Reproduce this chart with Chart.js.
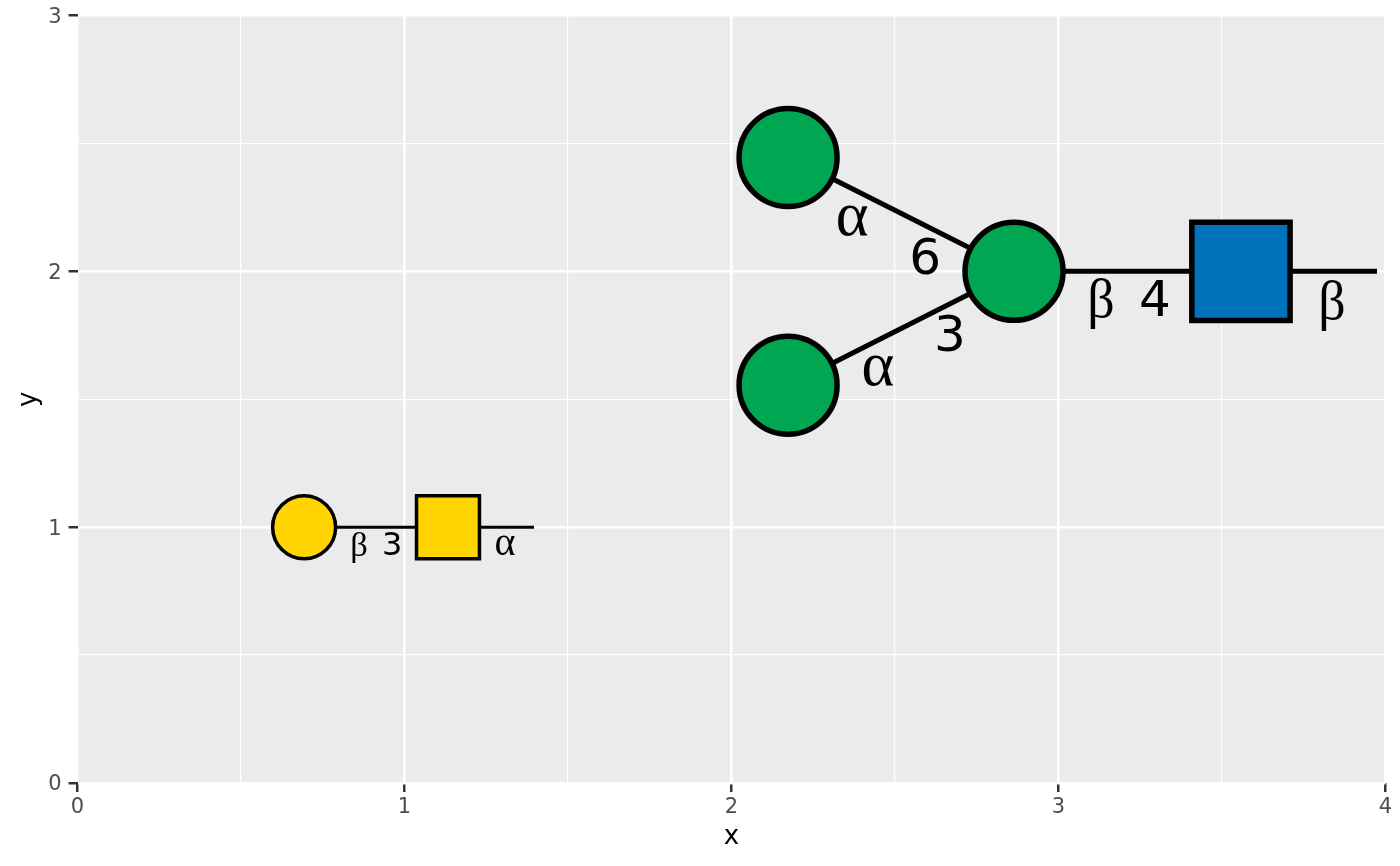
<!DOCTYPE html>
<html>
<head>
<meta charset="utf-8">
<title>glycan</title>
<script src="https://cdn.jsdelivr.net/npm/chart.js@4"></script>
<style>
    html, body { margin: 0; padding: 0; background: #fff; }
    canvas { display: block; }
</style>
</head>
<body>
<canvas id="myChart" width="1400" height="866"></canvas>
<script>
var xTicks = [0, 1, 2, 3, 4];
var yTicks = [0, 1, 2, 3];

// sugar symbols
var smallCircleX = [0.693], smallCircleY = [1];
var smallSquareX = [1.133], smallSquareY = [1];
var greenCircleX = [2.173, 2.173, 2.864], greenCircleY = [2.445, 1.555, 2];
var blueSquareX = [3.558], blueSquareY = [2];

// bonds, each one is x1, y1, x2, y2
var smallBonds = [
    [0.793, 1, 1.035, 1],
    [1.231, 1, 1.396, 1]
];
var bigBonds = [
    [2.31, 2.361, 2.729, 2.091],
    [2.31, 1.642, 2.729, 1.912],
    [3.02, 2, 3.402, 2],
    [3.714, 2, 3.974, 2]
];

// linkage text
var bigLabels = ['α', '6', 'α', '3', 'β', '4', 'β'];
var bigLabelX = [2.369, 2.592, 2.448, 2.668, 3.130, 3.295, 3.836];
var bigLabelY = [2.205, 2.040, 1.619, 1.739, 1.876, 1.876, 1.869];
var smallLabels = ['β', '3', 'α'];
var smallLabelX = [0.861, 0.962, 1.307];
var smallLabelY = [0.923, 0.922, 0.934];

function toPoints(xs, ys) {
    return xs.map(function (x, i) { return { x: x, y: ys[i] }; });
}

function bondDataset(bond, width) {
    return {
        data: [{ x: bond[0], y: bond[1] }, { x: bond[2], y: bond[3] }],
        showLine: true,
        borderColor: '#000000',
        borderWidth: width,
        pointRadius: 0,
        order: 2
    };
}

function symbolDataset(xs, ys, style, radius, fill, width) {
    return {
        data: toPoints(xs, ys),
        pointStyle: style,
        pointRadius: radius,
        pointHoverRadius: radius,
        backgroundColor: fill,
        borderColor: '#000000',
        pointBackgroundColor: fill,
        pointBorderColor: '#000000',
        pointBorderWidth: width,
        showLine: false,
        order: 1
    };
}

var datasets = [];
smallBonds.forEach(function (b) { datasets.push(bondDataset(b, 3)); });
bigBonds.forEach(function (b) { datasets.push(bondDataset(b, 5)); });
datasets.push(symbolDataset(smallCircleX, smallCircleY, 'circle', 31.5, '#FFD400', 3.5));
datasets.push(symbolDataset(smallSquareX, smallSquareY, 'rect', 44.5, '#FFD400', 3.5));
datasets.push(symbolDataset(greenCircleX, greenCircleY, 'circle', 49, '#00A651', 5.5));
datasets.push(symbolDataset(blueSquareX, blueSquareY, 'rect', 69.5, '#0072BC', 5.5));

// grey panel behind the grid, tick labels nudged down to sit level with the ticks
var panelPlugin = {
    id: 'panel',
    beforeDraw: function (chart) {
        var a = chart.chartArea;
        chart.ctx.save();
        chart.ctx.fillStyle = '#EBEBEB';
        chart.ctx.fillRect(a.left, a.top, a.right - a.left, a.bottom - a.top);
        chart.ctx.restore();
        chart.scales.y.getLabelItems().forEach(function (item) {
            item.options.translation[1] += 2;
        });
        chart.scales.x.getLabelItems().forEach(function (item) {
            item.options.translation[1] += 1;
        });
    }
};

// linkage labels, placed through the scales
var linkagePlugin = {
    id: 'linkage',
    afterDatasetsDraw: function (chart) {
        var ctx = chart.ctx;
        function drawLabels(labels, xs, ys, size) {
            labels.forEach(function (label, i) {
                if (label === 'α') {
                    ctx.font = (size * 1.25) + 'px "Liberation Serif"';
                } else if (label === 'β') {
                    ctx.font = (size * 1.08) + 'px "Liberation Serif"';
                } else {
                    ctx.font = size + 'px "DejaVu Sans"';
                }
                ctx.fillText(label, chart.scales.x.getPixelForValue(xs[i]), chart.scales.y.getPixelForValue(ys[i]));
            });
        }
        ctx.save();
        ctx.fillStyle = '#000000';
        ctx.textAlign = 'center';
        ctx.textBaseline = 'middle';
        drawLabels(bigLabels, bigLabelX, bigLabelY, 50);
        drawLabels(smallLabels, smallLabelX, smallLabelY, 32);
        ctx.restore();
    }
};

function isMajor(value) {
    return Number.isInteger(value);
}

function gridOptions() {
    return {
        color: '#FFFFFF',
        lineWidth: function (c) { return isMajor(c.tick.value) ? 2.5 : 1.2; },
        tickColor: function (c) { return isMajor(c.tick.value) ? '#333333' : 'rgba(0,0,0,0)'; },
        tickWidth: 2.5,
        tickLength: 9,
        drawTicks: true
    };
}

function tickLabel(value) {
    return isMajor(value) ? String(value) : '';
}

var ctx = document.getElementById('myChart').getContext('2d');
var myChart = new Chart(ctx, {
    type: 'scatter',
    data: { datasets: datasets },
    plugins: [panelPlugin, linkagePlugin],
    options: {
        responsive: false,
        animation: false,
        layout: { autoPadding: false, padding: { top: 15.5, right: 14.5, left: 0, bottom: 0 } },
        plugins: { legend: { display: false }, tooltip: { enabled: false } },
        scales: {
            x: {
                type: 'linear',
                min: xTicks[0],
                max: xTicks[xTicks.length - 1],
                grid: gridOptions(),
                border: { display: false },
                ticks: {
                    stepSize: 0.5,
                    autoSkip: false,
                    maxRotation: 0,
                    padding: 2,
                    color: '#4D4D4D',
                    font: { family: '"DejaVu Sans"', size: 21 },
                    callback: tickLabel
                },
                title: {
                    display: true,
                    text: 'x',
                    color: '#000000',
                    font: { family: '"DejaVu Sans"', size: 26 },
                    padding: { top: 0, bottom: 13 }
                },
                afterFit: function (scale) { scale.height = 83; }
            },
            y: {
                type: 'linear',
                min: yTicks[0],
                max: yTicks[yTicks.length - 1],
                grid: gridOptions(),
                border: { display: false },
                ticks: {
                    stepSize: 0.5,
                    autoSkip: false,
                    padding: 7,
                    color: '#4D4D4D',
                    font: { family: '"DejaVu Sans"', size: 21 },
                    callback: tickLabel
                },
                title: {
                    display: true,
                    text: 'y',
                    color: '#000000',
                    font: { family: '"DejaVu Sans"', size: 26 },
                    padding: { top: 14, bottom: 0 }
                },
                afterFit: function (scale) {
                    scale.width = 77.5;
                    scale.paddingTop = 0;
                    scale.paddingBottom = 0;
                }
            }
        }
    }
});
</script>
</body>
</html>
